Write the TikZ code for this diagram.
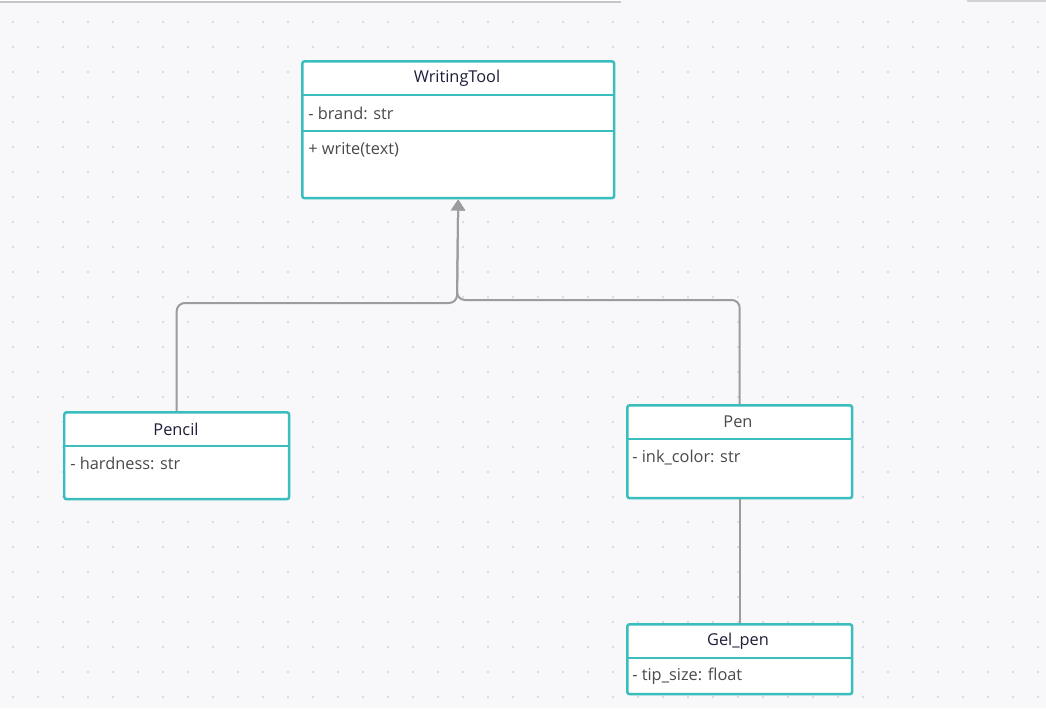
\documentclass[tikz,border=0pt]{standalone}
\usepackage{fontspec}
\setmainfont{Open Sans}
\usepackage{xcolor}
\usepackage{tikz}
\usetikzlibrary{arrows.meta,positioning}

\definecolor{canvas}{HTML}{F8F8FA}
\definecolor{griddot}{HTML}{D2D2DA}
\definecolor{classline}{HTML}{3ABDBD}
\definecolor{linkgray}{HTML}{9C9C9C}
\definecolor{namecol}{HTML}{1E1E3A}
\definecolor{fieldcol}{HTML}{4A4A4A}

\tikzset{
  classbox/.style={draw=classline, fill=white, line width=0.05cm,
    rounded corners=0.05cm, inner sep=0pt, anchor=north west},
  divider/.style={draw=classline, line width=0.05cm},
  classname/.style={text=namecol, font=\fontsize{9.3}{11}\selectfont, inner sep=0pt},
  field/.style={text=fieldcol, font=\fontsize{9.3}{11}\selectfont, inner sep=0pt, anchor=west},
  inherit/.style={draw=linkgray, line width=0.04cm, rounded corners=0.16cm,
    -{Triangle[width=0.28cm,length=0.22cm]}},
  assoc/.style={draw=linkgray, line width=0.04cm}
}

\begin{document}
\begin{tikzpicture}[x=0.02cm,y=-0.02cm]
    \useasboundingbox (0,0) rectangle (1046,708);
    \fill[canvas] (0,0) rectangle (1046,708);
    \foreach \x in {13,38,...,1040}
      \foreach \y in {22,47,...,700}
        \fill[griddot] (\x,\y) circle (1.1);

    % toolbar edges at the top
    \fill[white] (0,0) rectangle (621,2);
    \draw[gray!45, line width=0.03cm] (0,2) -- (621,2);
    \fill[white] (967,0) rectangle (1046,1);
    \draw[gray!35, line width=0.03cm] (967,1) -- (1046,1);

    % classes
    \node[classbox, minimum width=6.24cm, minimum height=2.74cm] (writingtool) at (301,60) {};
    \node[classbox, minimum width=4.5cm, minimum height=1.74cm] (pencil) at (63,411) {};
    \node[classbox, minimum width=4.5cm, minimum height=1.86cm] (pen) at (626,404) {};
    \node[classbox, minimum width=4.5cm, minimum height=1.4cm] (gelpen) at (626,623) {};

    \draw[divider] (writingtool.west |- 0,95) -- (writingtool.east |- 0,95);
    \draw[divider] (writingtool.west |- 0,131) -- (writingtool.east |- 0,131);
    \draw[divider] (pencil.west |- 0,446) -- (pencil.east |- 0,446);
    \draw[divider] (pen.west |- 0,439) -- (pen.east |- 0,439);
    \draw[divider] (gelpen.west |- 0,658) -- (gelpen.east |- 0,658);

    \node[classname] (writingtool-name) at (457,78) {WritingTool};
    \node[field] (writingtool-brand) at (308,113) {- brand: str};
    \node[field] (writingtool-write) at (308,150) {+ write(text)};

    \node[classname] (pencil-name) at (176,429) {Pencil};
    \node[field] (pencil-hardness) at (70,463) {- hardness: str};

    \node[classname, text=fieldcol] (pen-name) at (738,422) {Pen};
    \node[field] (pen-ink) at (632,458) {- ink\_color: str};

    \node[classname] (gelpen-name) at (738,641) {Gel\_pen};
    \node[field] (gelpen-tip) at (632,676) {- tip\_size: float};

    % connectors
    \coordinate (joinleft) at (457,303);
    \coordinate (joinright) at (457,300);
    \draw[inherit] (pencil.north) |- (joinleft) -- (writingtool.south);
    \draw[inherit] (pen.north) |- (joinright) -- (writingtool.south);
    \draw[assoc] (pen.south) -- (gelpen.north);
\end{tikzpicture}
\end{document}
